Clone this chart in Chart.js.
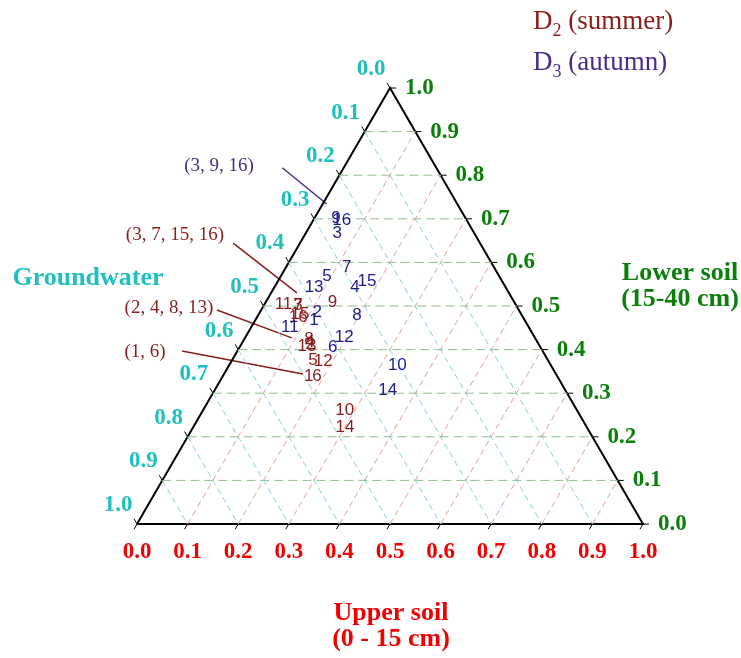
<!DOCTYPE html>
<html>
<head>
<meta charset="utf-8">
<script src="https://cdn.jsdelivr.net/npm/chart.js@4.4.0/dist/chart.umd.min.js"></script>
<style>
  body{margin:0;background:#fff;}
  #wrap{position:relative;width:741px;height:658px;}
</style>
</head>
<body>
<div id="wrap"><canvas id="tern"></canvas></div>
<script>
/* ---------- данные ---------- */
const TICK_VALS = [0,0.1,0.2,0.3,0.4,0.5,0.6,0.7,0.8,0.9,1];
const TICK_TEXT = ['0.0','0.1','0.2','0.3','0.4','0.5','0.6','0.7','0.8','0.9','1.0'];
const GRID_VALS = [0.1,0.2,0.3,0.4,0.5,0.6,0.7,0.8,0.9];
const PT_LABELS = ['1','2','3','4','5','6','7','8','9','10','11','12','13','14','15','16'];

// D2 (summer): доли верхнего слоя, нижнего слоя и грунтовых вод
const D2_UPPER  = [0.170,0.137,0.067,0.133,0.160,0.186,0.067,0.128,0.132,0.280,0.037,0.182,0.132,0.300,0.081,0.081];
const D2_LOWER  = [0.339,0.411,0.502,0.417,0.376,0.339,0.502,0.424,0.509,0.261,0.505,0.372,0.408,0.222,0.482,0.475];
const D2_GROUND = [0.491,0.452,0.431,0.450,0.464,0.475,0.431,0.448,0.359,0.459,0.458,0.446,0.460,0.478,0.437,0.444];

// D3 (autumn)
const D3_UPPER  = [0.116,0.113,0.062,0.159,0.091,0.184,0.120,0.195,0.042,0.332,0.076,0.195,0.078,0.342,0.176,0.056];
const D3_LOWER  = [0.468,0.486,0.667,0.544,0.569,0.406,0.589,0.479,0.702,0.365,0.452,0.429,0.544,0.307,0.557,0.697];
const D3_GROUND = [0.416,0.401,0.271,0.297,0.340,0.410,0.291,0.326,0.256,0.303,0.472,0.376,0.378,0.351,0.267,0.247];

// выноски для наложившихся номеров (в единицах графика: x = upper + lower/2, y = lower)
const CALLOUT_TEXT   = ['(3, 9, 16)','(3, 7, 15, 16)','(2, 4, 8, 13)','(1, 6)'];
const CALLOUT_SERIES = [1,0,0,0];
const CALLOUT_AT     = [[0.162,0.821],[0.075,0.663],[0.063,0.495],[0.016,0.394]];
const CALLOUT_FROM   = [[0.287,0.817],[0.190,0.644],[0.158,0.491],[0.089,0.397]];
const CALLOUT_TO     = [[0.375,0.734],[0.316,0.530],[0.306,0.427],[0.328,0.344]];

/* ---------- цвета / шрифты ---------- */
const C_RED   = '#f20000';
const C_GREEN = '#0a800a';
const C_CYAN  = '#1fc0c0';
const C_D2    = '#8c1c1c';
const C_D3PT  = '#1c1c8c';
const C_D3    = '#4a2a8c';
const SERIF   = '"Liberation Serif","Times New Roman",serif';
const SANS    = '"Liberation Sans",Arial,sans-serif';

/* ---------- тернарное преобразование ---------- */
function tern(u,l,g){
  const s = (g===undefined) ? 1 : (u+l+g);
  return {x:(u+l/2)/s, y:l/s};
}
function seg(points,color,width,dash){
  return {type:'line', data:points, borderColor:color, borderWidth:width,
          borderDash:dash||[], pointRadius:0, fill:false, clip:false,
          spanGaps:false, tension:0};
}
const GAP = {x:null,y:null};

// сетка
const gridGreen=[], gridRed=[], gridCyan=[];
GRID_VALS.forEach(v=>{
  gridGreen.push(tern(0,v), tern(1-v,v), GAP);
  gridRed.push(tern(v,0), tern(v,1-v), GAP);
  gridCyan.push(tern(0,1-v), tern(1-v,0), GAP);
});
// засечки
const d = 0.012;
const tickB=[], tickL=[], tickR=[];
TICK_VALS.forEach(v=>{
  tickB.push(tern(v,0), {x:v-d/2, y:-d}, GAP);
  const pl = tern(0,1-v); tickL.push(pl, {x:pl.x-d/2, y:pl.y+d}, GAP);
  const pr = tern(1-v,v); tickR.push(pr, {x:pr.x+d, y:pr.y}, GAP);
});

const series = [
  {name:'D2', u:D2_UPPER, l:D2_LOWER, g:D2_GROUND, color:C_D2},
  {name:'D3', u:D3_UPPER, l:D3_LOWER, g:D3_GROUND, color:C_D3PT}
];

const datasets = [
  seg(gridCyan,'#86d2d2',1,[6,4]),
  seg(gridRed,'#f09a9a',1,[6,4]),
  seg(gridGreen,'#8cc08c',1,[9,5]),
  seg([tern(0,0),tern(1,0),tern(0,1),tern(0,0)],'#000',2),
  seg(tickB,'#000',1), seg(tickL,'#000',1), seg(tickR,'#000',1)
];
CALLOUT_TEXT.forEach((t,i)=>{
  const c = CALLOUT_SERIES[i] ? C_D3 : C_D2;
  datasets.push(seg([{x:CALLOUT_FROM[i][0],y:CALLOUT_FROM[i][1]},
                     {x:CALLOUT_TO[i][0],y:CALLOUT_TO[i][1]}], c, 1.5));
});
const firstSeries = datasets.length;
series.forEach(s=>{
  datasets.push({type:'scatter', label:s.name,
    data:s.u.map((u,i)=>tern(u,s.l[i],s.g[i])),
    pointRadius:0, showLine:false, clip:false});
});

/* ---------- подписи ---------- */
const textPlugin = {
  id:'ternText',
  afterDatasetsDraw(chart){
    const ctx = chart.ctx, X = chart.scales.x, Y = chart.scales.y;
    const px = p=>X.getPixelForValue(p.x), py = p=>Y.getPixelForValue(p.y);
    ctx.save();

    // номера точек
    ctx.font = '17px '+SANS; ctx.textAlign='center'; ctx.textBaseline='middle';
    series.forEach((s,k)=>{
      const meta = chart.getDatasetMeta(firstSeries+k);
      ctx.fillStyle = s.color;
      meta.data.forEach((el,i)=>ctx.fillText(PT_LABELS[i], el.x, el.y));
    });

    // подписи шкал
    ctx.font = 'bold 23px '+SERIF;
    TICK_VALS.forEach((v,i)=>{
      const b = tern(v,0);
      ctx.fillStyle=C_RED; ctx.textAlign='center';
      ctx.fillText(TICK_TEXT[i], px(b), py(b)+28);
      const r = tern(1-v,v);
      ctx.fillStyle=C_GREEN; ctx.textAlign='left';
      ctx.fillText(TICK_TEXT[i], px(r)+15, py(r));
      const l = tern(0,1-v);
      ctx.fillStyle=C_CYAN; ctx.textAlign='center';
      ctx.fillText(TICK_TEXT[i], px(l)-19, py(l)-19);
    });

    // названия осей
    ctx.font = 'bold 26px '+SERIF; ctx.textAlign='center';
    ctx.fillStyle=C_CYAN;  ctx.fillText('Groundwater', 88, 278);
    ctx.fillStyle=C_GREEN; ctx.fillText('Lower soil', 680, 273); ctx.fillText('(15-40 cm)', 680, 299);
    ctx.fillStyle=C_RED;   ctx.fillText('Upper soil', 391, 613); ctx.fillText('(0 - 15 cm)', 391, 639);

    // выноски
    ctx.font = '19px '+SERIF;
    CALLOUT_TEXT.forEach((t,i)=>{
      ctx.fillStyle = CALLOUT_SERIES[i] ? C_D3 : C_D2;
      ctx.fillText(t, px({x:CALLOUT_AT[i][0]}), py({y:CALLOUT_AT[i][1]}));
    });

    // легенда
    const leg = [['2',' (summer)',C_D2,22],['3',' (autumn)',C_D3,63]];
    ctx.textAlign='left';
    leg.forEach(([sub,rest,c,y])=>{
      let x = 533;
      ctx.fillStyle=c;
      ctx.font='27px '+SERIF; ctx.fillText('D',x,y); x+=ctx.measureText('D').width;
      ctx.font='18px '+SERIF; ctx.fillText(sub,x,y+9); x+=ctx.measureText(sub).width;
      ctx.font='27px '+SERIF; ctx.fillText(rest,x,y);
    });
    ctx.restore();
  }
};

new Chart(document.getElementById('tern'),{
  data:{datasets},
  options:{
    responsive:true, maintainAspectRatio:false, animation:false,
    layout:{padding:{left:137,right:98,top:88,bottom:134}},
    scales:{
      x:{type:'linear',min:0,max:1,display:false},
      y:{type:'linear',min:0,max:1,display:false}
    },
    plugins:{legend:{display:false},tooltip:{enabled:false}}
  },
  plugins:[textPlugin]
});
</script>
</body>
</html>
